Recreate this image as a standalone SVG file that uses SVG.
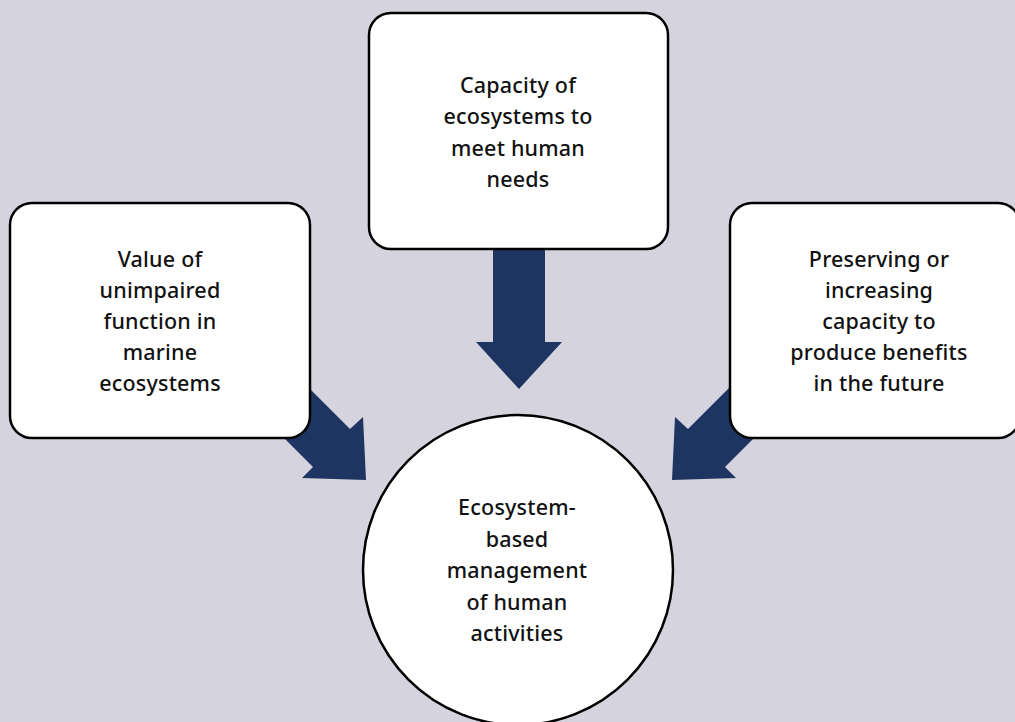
<svg xmlns="http://www.w3.org/2000/svg" width="1015" height="722" viewBox="0 0 1015 722">
<style>
.box{fill:#fff;stroke:#000;stroke-width:2.5}
.arrow{fill:#1e3461}
text{font-family:"Noto Sans","Open Sans",sans-serif;font-size:21.5px;font-weight:500;fill:#111;text-anchor:middle;letter-spacing:0.2px}
</style>
<rect width="1015" height="722" fill="#d4d3de"/>
<g id="connectors">
<polygon class="arrow" points="493,240 545,240 545,342 562,342 519,389 476,342 493,342"/>
<polygon class="arrow" points="290,369 350,429 363,417 366,480 302,478 313,467 253,407"/>
<polygon class="arrow" points="748,369 688,429 675,417 672,480 736,478 725,467 785,407"/>
</g>
<g id="top">
<rect class="box" x="369" y="13" width="299" height="236" rx="22"/>
<text x="518" y="93">Capacity of</text>
<text x="518" y="124">ecosystems to</text>
<text x="518" y="156">meet human</text>
<text x="518" y="187">needs</text>
</g>
<g id="left">
<rect class="box" x="10" y="203" width="300" height="235" rx="22"/>
<text x="160" y="267">Value of</text>
<text x="160" y="298">unimpaired</text>
<text x="160" y="329">function in</text>
<text x="160" y="360">marine</text>
<text x="160" y="391">ecosystems</text>
</g>
<g id="right">
<rect class="box" x="730" y="203" width="290" height="235" rx="22"/>
<text x="879" y="267">Preserving or</text>
<text x="879" y="298">increasing</text>
<text x="879" y="329">capacity to</text>
<text x="879" y="360">produce benefits</text>
<text x="879" y="391">in the future</text>
</g>
<g id="center">
<circle class="box" cx="518" cy="570" r="155"/>
<text x="517" y="515">Ecosystem-</text>
<text x="517" y="547">based</text>
<text x="517" y="578">management</text>
<text x="517" y="610">of human</text>
<text x="517" y="641">activities</text>
</g>
</svg>
